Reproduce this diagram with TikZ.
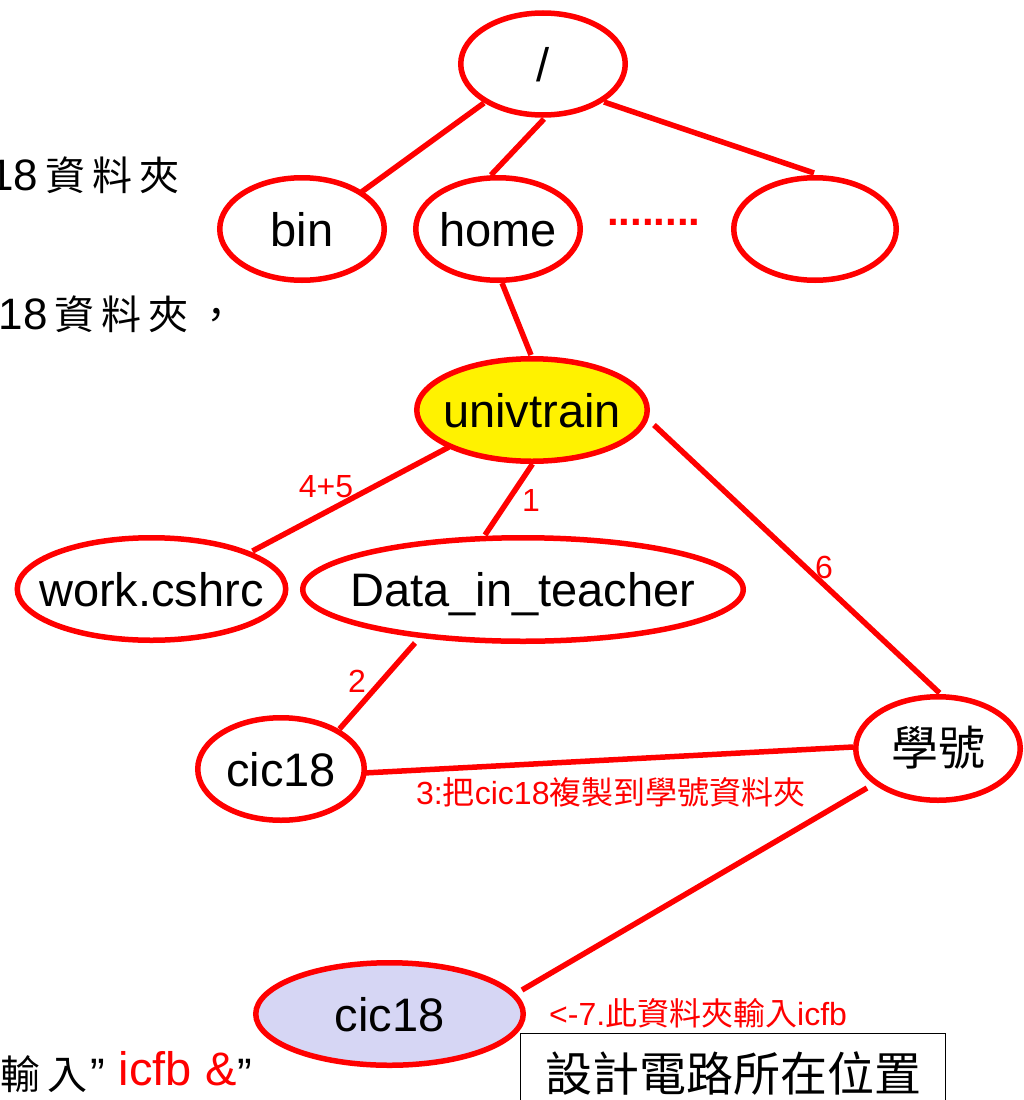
\documentclass[tikz,border=0pt]{standalone}
\usepackage{fontspec}
\setmainfont{Liberation Sans}
\newfontfamily\cjk{Noto Sans CJK TC}
\usetikzlibrary{shapes.geometric,calc}
\definecolor{lav}{RGB}{214,214,244}
\begin{document}
\begin{tikzpicture}[x=1pt,y=1pt,
  ell/.style={ellipse, draw=red, line width=5.5pt, inner sep=0pt,
    font=\fontsize{47}{56}\selectfont, text height=34pt, text depth=0pt},
  conn/.style={draw=red, line width=5.5pt},
  lab/.style={text=red, inner sep=0pt, font=\fontsize{32}{38}\selectfont},
  side/.style={inner sep=0pt, font=\fontsize{44}{50}\selectfont, anchor=base west}]
\useasboundingbox (0,0) rectangle (1023,-1100);

% tree nodes
\node[ell, minimum width=164.5pt, minimum height=102pt] (R) at (543,-64) {\makebox[0pt]{/}};
\node[ell, minimum width=164.5pt, minimum height=102.5pt] (B) at (302,-229) {\makebox[0pt]{bin}};
\node[ell, minimum width=164.5pt, minimum height=102.5pt] (H) at (498,-229) {\makebox[0pt]{home}};
\node[ell, minimum width=162.5pt, minimum height=102.5pt] (E) at (815,-229) {};
\node[ell, fill=yellow, minimum width=230.5pt, minimum height=102.5pt] (U) at (532,-410) {\makebox[0pt]{univtrain}};
\node[ell, minimum width=268.5pt, minimum height=102.5pt] (W) at (151.5,-589) {\makebox[0pt]{work.cshrc}};
\node[ell, minimum width=440.5pt, minimum height=103.5pt] (D) at (523,-589.5) {\makebox[0pt]{Data\_in\_teacher}};
\node[ell, minimum width=166.5pt, minimum height=102.5pt] (C) at (281,-769) {\makebox[0pt]{cic18}};
\node[ell, minimum width=164.5pt, minimum height=103.5pt] (S) at (938,-748.5) {\makebox[0pt]{\cjk 學號}};
\node[ell, fill=lav, minimum width=267.5pt, minimum height=102.5pt] (K) at (389.5,-1014) {\makebox[0pt]{cic18}};

\node[anchor=base west, text=red, inner sep=0pt, font=\bfseries\fontsize{42}{48}\selectfont] (dots) at (607,-225) {........};

% connectors
\draw[conn] ($(R)+(-59,-39)$) -- ($(B)+(59.5,37)$);
\draw[conn] ($(R)+(1,-55)$) -- ($(H)+(-7,54)$);
\draw[conn] ($(R)+(61,-38)$) -- ($(E)+(-1,56)$);
\draw[conn] ($(H)+(4,-54)$) -- ($(U)+(-1,55)$);
\draw[conn] ($(U)+(-83,-37)$) -- ($(W)+(101,38)$);
\draw[conn] ($(U)+(0.5,-54)$) -- ($(D)+(-38,54.5)$);
\draw[conn] ($(U)+(122,-15)$) -- ($(S)+(1.5,55.5)$);
\draw[conn] ($(D)+(-108,-53.5)$) -- ($(C)+(58.5,40)$);
\draw[conn] ($(C)+(83,-4)$) -- ($(S)+(-85,1.5)$);
\draw[conn] ($(S)+(-71,-39.5)$) -- ($(K)+(132.5,24)$);

% connector labels
\node[lab] (l45) at (326,-487) {4+5};
\node[lab] (l1) at (531,-500) {1};
\node[lab] (l6) at (824,-567) {6};
\node[lab] (l2) at (357,-681) {2};
\node[lab, anchor=base west] (l3) at (416,-804) {3:{\cjk 把}cic18{\cjk 複製到學號資料夾}};
\node[lab, anchor=base west] (l7) at (549,-1025) {<-7.{\cjk 此資料夾輸入}icfb};

% box
\node[draw=black, line width=1.3pt, anchor=north west, minimum width=425pt, minimum height=80pt,
  inner sep=0pt, font=\cjk\fontsize{47}{56}\selectfont] (box) at (520,-1033) {設計電路所在位置};

% partial slide text on the left
\node[side] (t1) at (-11,-190) {18{\fontsize{40}{48}\selectfont\cjk\hspace{7pt}資\hspace{7pt}料\hspace{7pt}夾}};
\node[side] (t2) at (-1.5,-329) {18{\fontsize{40}{48}\selectfont\cjk\hspace{7pt}資\hspace{7pt}料\hspace{7pt}夾\hspace{8pt}，}};
\node[side] (t3) at (0,-1089) {{\fontsize{40}{48}\selectfont\cjk 輸\hspace{7pt}入}\hspace{3pt}”\hspace{14pt}\raisebox{4pt}{\color{red}\fontsize{47}{52}\selectfont icfb \&}\hspace{1pt}”};
\end{tikzpicture}
\end{document}
